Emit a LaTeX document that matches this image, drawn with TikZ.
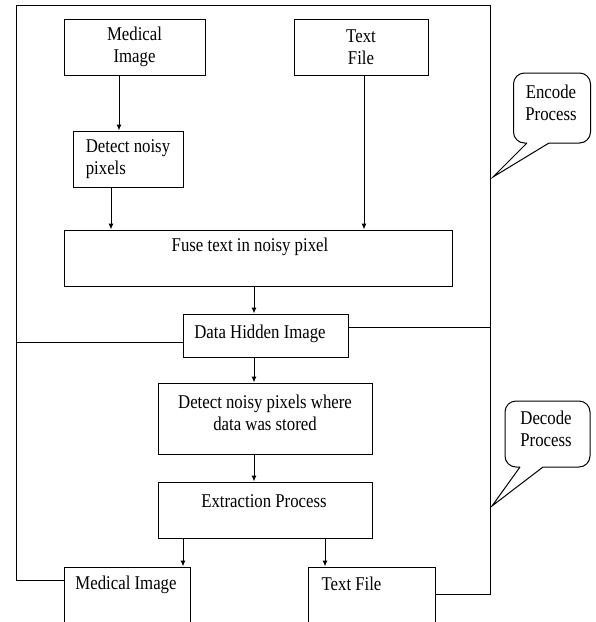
\documentclass[tikz,border=0pt]{standalone}
\usepackage{fontspec}
\setmainfont{Liberation Serif}
\newfontfamily\condserif[FakeStretch=0.86]{Liberation Serif}
\usetikzlibrary{arrows.meta}
\begin{document}
\begin{tikzpicture}[x=1pt,y=-1pt,
  lw/.style={line width=1pt},
  box/.style={draw, lw, inner sep=0pt, align=center, font=\condserif\fontsize{19.5}{22}\selectfont},
  txt/.style={inner sep=0pt, align=center, font=\condserif\fontsize{19.5}{22}\selectfont},
  arr/.style={lw, -{Latex[length=6pt,width=5pt]}},
  bubble/.style={draw, lw, rounded corners=11pt, fill=white, inner sep=0pt}]
\useasboundingbox (0,0) rectangle (596,622);
\clip (0,0) rectangle (596,622);
% boxes
\node[box, minimum width=141pt, minimum height=56pt] (medimg) at (134.5,47) {Medical\\Image};
\node[box, minimum width=134pt, minimum height=56pt] (txtfile) at (361,47) {Text\\File};
\node[box, minimum width=110pt, minimum height=56pt, align=left] (detect) at (128,159) {Detect noisy\\pixels};
\node[box, minimum width=388pt, minimum height=56pt] (fuse) at (258,258) {};
\node[txt] (fusetxt) at (250,247) {Fuse text in noisy pixel};
\node[box, minimum width=165pt, minimum height=43pt] (dhi) at (265.5,335.5) {};
\node[txt] (dhitxt) at (260,334) {Data Hidden Image};
\node[box, minimum width=214pt, minimum height=71pt] (detect2) at (265,418.5) {};
\node[txt] (detect2txt) at (265,412.5) {Detect noisy pixels where\\data was stored};
\node[box, minimum width=214pt, minimum height=56pt] (extr) at (265,510) {};
\node[txt] (extrtxt) at (264,501) {Extraction Process};
\node[box, minimum width=126pt, minimum height=70pt] (medimg2) at (127,602) {};
\node[txt] (medimg2txt) at (126,585) {Medical Image};
\node[box, minimum width=127pt, minimum height=70pt] (txtfile2) at (371.5,602) {};
\node[txt] (txtfile2txt) at (351.5,584) {Text File};
% helper coordinates
\coordinate (xa) at (119,0);
\coordinate (xb) at (111,0);
\coordinate (xc) at (364,0);
\coordinate (xd) at (254,0);
\coordinate (xe) at (183,0);
\coordinate (xf) at (325,0);
\coordinate (ftl) at (16,5);
\coordinate (ftr) at (490,5);
\coordinate (yl) at (0,580);
\coordinate (yr) at (0,594);
\coordinate (yl1) at (0,342);
\coordinate (yr1) at (0,327);
% arrows
\draw[arr] (medimg.south -| xa) -- (detect.north -| xa);
\draw[arr] (detect.south -| xb) -- (fuse.north -| xb);
\draw[arr] (txtfile.south -| xc) -- (fuse.north -| xc);
\draw[arr] (fuse.south -| xd) -- (dhi.north -| xd);
\draw[arr] (dhi.south -| xd) -- (detect2.north -| xd);
\draw[arr] (detect2.south -| xd) -- (extr.north -| xd);
\draw[arr] (extr.south -| xe) -- (medimg2.north -| xe);
\draw[arr] (extr.south -| xf) -- (txtfile2.north -| xf);
% frame
\draw[lw] (medimg2.west |- yl) -| (ftl) -- (ftr) |- (txtfile2.east |- yr);
\draw[lw] (dhi.east |- yr1) -- (ftr |- yr1);
\draw[lw] (dhi.west |- yl1) -- (ftl |- yl1);
% encode bubble
\node[bubble, minimum width=77pt, minimum height=70pt] (enc) at (552,108) {};
\node[txt] (enctxt) at (551,103) {Encode\\Process};
\coordinate (e1) at (527,143);
\coordinate (e2) at (493,177);
\coordinate (e3) at (549,143);
\fill[white] (527,141) -- (e1) -- (e2) -- (e3) -- (549,141) -- cycle;
\draw[lw, line join=miter] (e1) -- (e2) -- (e3);
% decode bubble
\node[bubble, minimum width=85pt, minimum height=66pt] (dec) at (547.5,434) {};
\node[txt] (dectxt) at (546,429) {Decode\\Process};
\coordinate (d1) at (520,467);
\coordinate (d2) at (492,506);
\coordinate (d3) at (543,467);
\fill[white] (520,465) -- (d1) -- (d2) -- (d3) -- (543,465) -- cycle;
\draw[lw, line join=miter] (d1) -- (d2) -- (d3);
\end{tikzpicture}
\end{document}
